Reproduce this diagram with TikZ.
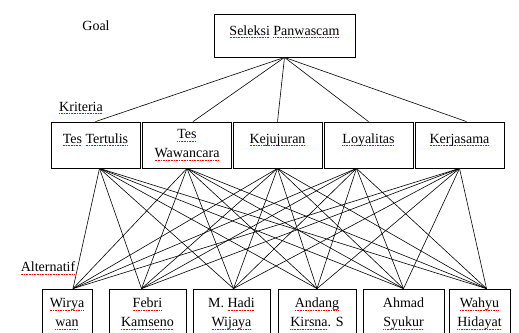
\documentclass[tikz,border=0pt]{standalone}
\usepackage{fontspec}
\setmainfont{Liberation Serif}
\newsavebox{\spellbox}
\newcommand{\spellmark}[1]{\leavevmode\sbox{\spellbox}{#1}%
	\rlap{\textcolor{red}{\lower2.8pt\hbox to\wd\spellbox{\xleaders\hbox{\rule{1pt}{0.8pt}\kern0.6pt}\hfill}}}\usebox{\spellbox}}

\begin{document}
\begin{tikzpicture}[
		x=1pt, y=-1pt,
		every node/.style={font=\fontsize{14}{19}\selectfont},
		goalbox/.style={draw, line width=0.8pt, minimum width=141pt, minimum height=43pt, text depth=10pt},
		kritbox/.style={draw, line width=0.8pt, minimum width=89pt, minimum height=46pt, align=center},
		kritone/.style={kritbox, text depth=13pt},
		altbox/.style={draw, line width=0.8pt, minimum height=50pt, align=center},
		link/.style={line width=0.6pt}
		]
		\useasboundingbox (0,0) rectangle (519,332);
		
		% Draw Goal
		\node[goalbox] (goal) at (284.5, 35.5) {\spellmark{Seleksi} \spellmark{Panwascam}};
		
		% Draw Kriteria
		\node[kritone] (k1) at (95.5, 145) {\spellmark{Tes} \spellmark{Tertulis}};
		\node[kritbox] (k2) at (187, 145) {\spellmark{Tes}\\\spellmark{Wawancara}};
		\node[kritone] (k3) at (277.5, 145) {\spellmark{Kejujuran}};
		\node[kritone] (k4) at (368.5, 145) {\spellmark{Loyalitas}};
		\node[kritone] (k5) at (459.5, 145) {\spellmark{Kerjasama}};
		
		% Draw Alternatif
		\node[altbox, minimum width=50pt] (a1) at (67, 314) {\spellmark{Wirya}\\\spellmark{wan}};
		\node[altbox, minimum width=77pt] (a2) at (147.5, 314) {\spellmark{Febri}\\\spellmark{Kamseno}};
		\node[altbox, minimum width=77pt] (a3) at (231.5, 314) {M. \spellmark{Hadi}\\\spellmark{Wijaya}};
		\node[altbox, minimum width=78pt] (a4) at (317, 314) {\spellmark{Andang}\\\spellmark{Kirsna}. S};
		\node[altbox, minimum width=81pt] (a5) at (403.5, 314) {Ahmad\\\spellmark{Syukur}};
		\node[altbox, minimum width=61pt] (a6) at (479.5, 314) {\spellmark{Wahyu}\\\spellmark{Hidayat}};
		
		% Add Level Labels
		\node (goallbl) at (96, 26) {Goal};
		\node (kritlbl) at (81, 108) {\spellmark{Kriteria}};
		\node (altlbl) at (48, 268) {\spellmark{Alternatif}};
		
		% Goal to Kriteria
		\foreach \k/\dx in {k1/0pt, k2/6pt, k3/0pt, k4/0pt, k5/7pt} {
			\draw[link] (goal.south) -- ([xshift=\dx]\k.north);
		}
		% Kriteria to Alternatif
		\foreach \k/\kx in {k1/4pt, k2/0pt, k3/0pt, k4/-12pt, k5/0pt} {
			\foreach \a/\ax in {a1/6pt, a2/-6pt, a3/2pt, a4/0pt, a5/0pt, a6/7pt} {
				\draw[link] ([xshift=\kx]\k.south) -- ([xshift=\ax]\a.north);
			}
		}
		
	\end{tikzpicture}
\end{document}
